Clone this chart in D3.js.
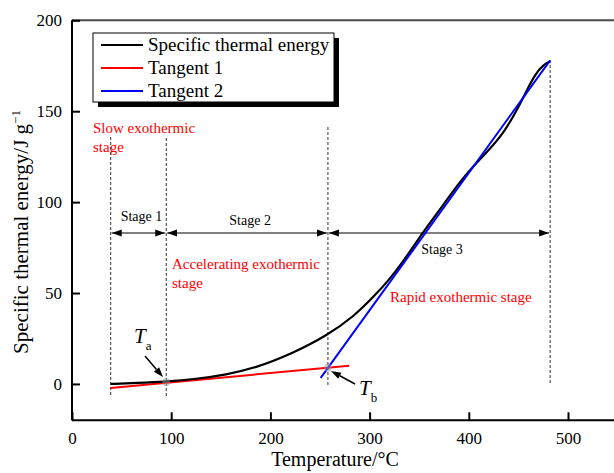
<!DOCTYPE html>
<html>
<head>
<meta charset="utf-8">
<script src="https://cdn.jsdelivr.net/npm/d3@7"></script>
<style>
  body { margin: 0; background: #fff; }
  svg { display: block; }
</style>
</head>
<body>
<div id="chart"></div>
<script>
/**********************/
/******* data         */
/**********************/

// black curve: specific thermal energy
const temperature = [39, 65, 95, 125, 155, 186, 220, 257, 285, 305, 320, 334, 347, 360, 375, 390, 405, 420, 435, 448, 458, 467, 475, 482];
const energy      = [0, 0.5, 1.3, 2.7, 5.0, 9.0, 16.2, 26.5, 37.5, 48.5, 57.5, 67.5, 78, 88, 99, 110.5, 120, 128.5, 138, 150, 161, 170.5, 175.5, 177.3];

// tangent lines (two end points each)
const tangent1T = [39, 279.5], tangent1E = [-2.2, 10];
const tangent2T = [250.7, 482], tangent2E = [3.3, 178];

// stage boundaries (dashed lines) and onset points
const stageBounds = [39, 95, 258, 482];
const stageLabels = ["Stage 1", "Stage 2", "Stage 3"];
const Ta = [95, 1.0], Tb = [258, 8.9];

const xTicks = [0, 100, 200, 300, 400, 500];
const yTicks = [0, 50, 100, 150, 200];

const legendItems = [
    { label: "Specific thermal energy", color: "#000" },
    { label: "Tangent 1", color: "#ff0000" },
    { label: "Tangent 2", color: "#0000ff" }
];

/**********************/
/******* d3           */
/**********************/

const width = 614, height = 473;
const serif = "'Liberation Serif', 'Times New Roman', serif";
const x = d3.scaleLinear().domain([0, 550]).range([72, 72 + 550 * 0.992]);
const y = d3.scaleLinear().domain([-20, 200]).range([420.3, 20.3]);

const svg = d3.select("#chart")
    .append("svg")
    .attr("width", width)
    .attr("height", height)
    .attr("font-family", serif);

svg.append("defs").append("marker")
    .attr("id", "head")
    .attr("viewBox", "0 0 10 10")
    .attr("refX", 10)
    .attr("refY", 5)
    .attr("markerWidth", 10)
    .attr("markerHeight", 10)
    .attr("markerUnits", "userSpaceOnUse")
    .attr("orient", "auto-start-reverse")
    .append("path")
    .attr("d", "M0,1.5 L10,5 L0,8.5 Z")
    .attr("fill", "#000");

// frame: top line (grey) + axes
svg.append("line")
    .attr("x1", x(0)).attr("x2", width)
    .attr("y1", y(200)).attr("y2", y(200))
    .attr("stroke", "#4a4a4a").attr("stroke-width", 2);

// x axis, ticks inward
const xAxis = svg.append("g").attr("transform", `translate(0, ${y(-20)})`);
xAxis.call(d3.axisBottom(x).tickValues(d3.range(50, 551, 100)).tickSize(-4).tickFormat(""));
xAxis.call(d3.axisBottom(x).tickValues(xTicks).tickSize(-8).tickFormat(d3.format("d")));
xAxis.selectAll(".domain").remove();
xAxis.append("line")
    .attr("x1", x(0)).attr("x2", width)
    .attr("stroke", "#000").attr("stroke-width", 2);
xAxis.selectAll("line").attr("stroke-width", 2);
xAxis.attr("font-family", serif);
xAxis.selectAll("text")
    .attr("y", 12)
    .style("font-size", "17px")
    .attr("fill", "#000");

// y axis, ticks inward
const yAxis = svg.append("g").attr("transform", `translate(${x(0)}, 0)`);
yAxis.call(d3.axisLeft(y).tickValues([25, 75, 125, 175]).tickSize(-4).tickFormat(""));
yAxis.call(d3.axisLeft(y).tickValues(yTicks).tickSize(-8).tickFormat(d3.format("d")));
yAxis.selectAll(".domain").remove();
yAxis.append("line")
    .attr("y1", y(-20)).attr("y2", y(200))
    .attr("stroke", "#000").attr("stroke-width", 2);
yAxis.selectAll("line").attr("stroke-width", 2);
yAxis.attr("font-family", serif);
yAxis.selectAll("text")
    .attr("x", -10)
    .style("font-size", "17px")
    .attr("fill", "#000");

// axis titles
svg.append("text")
    .attr("x", x(0) + (width - x(0)) / 2 - 8)
    .attr("y", 466)
    .attr("text-anchor", "middle")
    .style("font-size", "20px")
    .text("Temperature/°C");

const yTitle = svg.append("text")
    .attr("transform", "translate(28, 232) rotate(-90)")
    .attr("text-anchor", "middle")
    .style("font-size", "21px");
yTitle.append("tspan").text("Specific thermal energy/J g");
yTitle.append("tspan").attr("dy", -8).style("font-size", "13px").text("−1");

// dashed stage boundaries
const dashTop = [137, 138, 127, 60];
const dashBottom = [396, 396, 385, 385];
svg.append("g")
    .selectAll("line")
    .data(stageBounds)
    .enter()
    .append("line")
    .attr("x1", d => x(d)).attr("x2", d => x(d))
    .attr("y1", (d, i) => dashTop[i])
    .attr("y2", (d, i) => dashBottom[i])
    .attr("stroke", "#333")
    .attr("stroke-width", 1)
    .attr("stroke-dasharray", "3,2");

// double-headed stage arrows
const arrowY = 233;
const stages = stageLabels.map((s, i) => ({ label: s, a: stageBounds[i], b: stageBounds[i + 1] }));
svg.append("g")
    .selectAll("line")
    .data(stages)
    .enter()
    .append("line")
    .attr("x1", d => x(d.a) + 1).attr("x2", d => x(d.b) - 1)
    .attr("y1", arrowY).attr("y2", arrowY)
    .attr("stroke", "#000").attr("stroke-width", 1.2)
    .attr("marker-start", "url(#head)")
    .attr("marker-end", "url(#head)");

const stageTextY = [221, 225, 254];
svg.append("g")
    .selectAll("text")
    .data(stages)
    .enter()
    .append("text")
    .attr("x", d => (x(d.a) + x(d.b)) / 2 + 3)
    .attr("y", (d, i) => stageTextY[i])
    .attr("text-anchor", "middle")
    .style("font-size", "14px")
    .text(d => d.label);

// red stage descriptions
const redNotes = [
    { x: 93, y: 133, text: "Slow exothermic" },
    { x: 93, y: 152, text: "stage" },
    { x: 172, y: 269, text: "Accelerating exothermic" },
    { x: 172, y: 288, text: "stage" },
    { x: 390, y: 302, text: "Rapid exothermic stage" }
];
svg.append("g")
    .selectAll("text")
    .data(redNotes)
    .enter()
    .append("text")
    .attr("x", d => d.x)
    .attr("y", d => d.y)
    .attr("fill", "#ff0000")
    .style("font-family", serif)
    .style("font-size", "15px")
    .text(d => d.text);

// lines
const line = d3.line().x(d => x(d[0])).y(d => y(d[1]));

svg.append("path")
    .datum(d3.zip(tangent1T, tangent1E))
    .attr("d", line)
    .attr("fill", "none")
    .attr("stroke", "#ff0000")
    .attr("stroke-width", 2);

svg.append("path")
    .datum(d3.zip(temperature, energy))
    .attr("d", d3.line().x(d => x(d[0])).y(d => y(d[1])).curve(d3.curveBasis))
    .attr("fill", "none")
    .attr("stroke", "#000")
    .attr("stroke-width", 2.2);

svg.append("path")
    .datum(d3.zip(tangent2T, tangent2E))
    .attr("d", line)
    .attr("fill", "none")
    .attr("stroke", "#0000ff")
    .attr("stroke-width", 2);

// onset markers
svg.append("g")
    .selectAll("circle")
    .data([Ta, Tb])
    .enter()
    .append("circle")
    .attr("cx", d => x(d[0]))
    .attr("cy", d => y(d[1]))
    .attr("r", 4)
    .attr("fill", "#999")
    .attr("fill-opacity", 0.5);

// Ta / Tb labels with arrows (arrowhead drawn as a small triangle)
const onsetLabels = [
    { sub: "a", tx: 134, ty: 343, from: [145, 356], to: [163, 377] },
    { sub: "b", tx: 359, ty: 395, from: [355, 384], to: [331, 371] }
];
const onsetG = svg.append("g");
onsetLabels.forEach(d => {
    const t = onsetG.append("text")
        .attr("x", d.tx).attr("y", d.ty)
        .style("font-size", "21px");
    t.append("tspan").style("font-style", "italic").text("T");
    t.append("tspan").attr("dy", 7).style("font-size", "13px").text(d.sub);

    const dx = d.to[0] - d.from[0], dy = d.to[1] - d.from[1];
    const len = Math.hypot(dx, dy), ux = dx / len, uy = dy / len;
    const bx = d.to[0] - ux * 10, by = d.to[1] - uy * 10;
    onsetG.append("line")
        .attr("x1", d.from[0]).attr("y1", d.from[1])
        .attr("x2", bx).attr("y2", by)
        .attr("stroke", "#000").attr("stroke-width", 1.5);
    onsetG.append("path")
        .attr("d", `M${d.to[0]},${d.to[1]} L${bx - uy * 3.5},${by + ux * 3.5} L${bx + uy * 3.5},${by - ux * 3.5} Z`)
        .attr("fill", "#000");
});

// legend with drop shadow
const lg = { x: 93, y: 33, w: 241, h: 69 };
const legend = svg.append("g");
legend.append("rect")
    .attr("x", lg.x + 5).attr("y", lg.y + 5)
    .attr("width", lg.w).attr("height", lg.h)
    .attr("fill", "#000");
legend.append("rect")
    .attr("x", lg.x).attr("y", lg.y)
    .attr("width", lg.w).attr("height", lg.h)
    .attr("fill", "#fff")
    .attr("stroke", "#000").attr("stroke-width", 1);

const rows = legend.selectAll("g.row")
    .data(legendItems)
    .enter()
    .append("g")
    .attr("transform", (d, i) => `translate(0, ${45 + i * 23})`);
rows.append("line")
    .attr("x1", 101).attr("x2", 143)
    .attr("stroke", d => d.color)
    .attr("stroke-width", 2);
rows.append("text")
    .attr("x", 148)
    .attr("y", 6)
    .style("font-size", "19px")
    .text(d => d.label);
</script>
</body>
</html>
